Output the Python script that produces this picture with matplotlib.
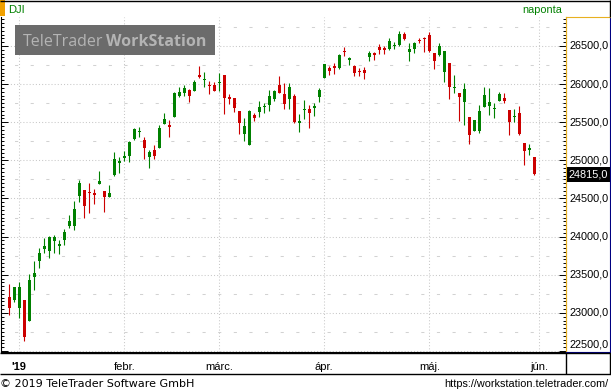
import numpy as np
import pandas as pd
import matplotlib
matplotlib.use("Agg")
import matplotlib.pyplot as plt
from matplotlib import transforms
from matplotlib.lines import Line2D
from matplotlib.patches import Rectangle
from matplotlib.ticker import MultipleLocator, FixedLocator

# DJI daily candles
dates = [
    "2018-12-28", "2018-12-31",
    "2019-01-02", "2019-01-03", "2019-01-04", "2019-01-07", "2019-01-08", "2019-01-09",
    "2019-01-10", "2019-01-11", "2019-01-14", "2019-01-15", "2019-01-16", "2019-01-17",
    "2019-01-18", "2019-01-22", "2019-01-23", "2019-01-24", "2019-01-25", "2019-01-28",
    "2019-01-29", "2019-01-30", "2019-01-31",
    "2019-02-01", "2019-02-04", "2019-02-05", "2019-02-06", "2019-02-07", "2019-02-08",
    "2019-02-11", "2019-02-12", "2019-02-13", "2019-02-14", "2019-02-15", "2019-02-19",
    "2019-02-20", "2019-02-21", "2019-02-22", "2019-02-25", "2019-02-26", "2019-02-27",
    "2019-02-28",
    "2019-03-01", "2019-03-04", "2019-03-05", "2019-03-06", "2019-03-07", "2019-03-08",
    "2019-03-11", "2019-03-12", "2019-03-13", "2019-03-14", "2019-03-15", "2019-03-18",
    "2019-03-19", "2019-03-20", "2019-03-21", "2019-03-22", "2019-03-25", "2019-03-26",
    "2019-03-27", "2019-03-28", "2019-03-29",
    "2019-04-01", "2019-04-02", "2019-04-03", "2019-04-04", "2019-04-05", "2019-04-08",
    "2019-04-09", "2019-04-10", "2019-04-11", "2019-04-12", "2019-04-15", "2019-04-16",
    "2019-04-17", "2019-04-18", "2019-04-22", "2019-04-23", "2019-04-24", "2019-04-25",
    "2019-04-26", "2019-04-29", "2019-04-30",
    "2019-05-01", "2019-05-02", "2019-05-03", "2019-05-06", "2019-05-07", "2019-05-08",
    "2019-05-09", "2019-05-10", "2019-05-13", "2019-05-14", "2019-05-15", "2019-05-16",
    "2019-05-17", "2019-05-20", "2019-05-21", "2019-05-22", "2019-05-23", "2019-05-24",
    "2019-05-28", "2019-05-29", "2019-05-30", "2019-05-31",
]
opens = [
    23213, 23169,
    23060, 23169, 22898, 23475, 23680, 23842, 23816, 23947, 23881, 23956, 24139, 24139,
    24537, 24611, 24580, 24576, 24686, 24603, 24515, 24808, 24961,
    25025, 25057, 25280, 25375, 25267, 25049, 25136, 25158, 25481, 25464, 25573, 25849,
    25879, 25923, 25914, 26120, 26048, 25989, 25989,
    26010, 26120, 25831, 25822, 25648, 25346, 25202, 25595, 25639, 25700, 25726, 25805,
    25989, 25870, 25805, 25844, 25494, 25655, 25674, 25691, 25836,
    26076, 26216, 26242, 26207, 26426, 26316, 26242, 26176, 26185, 26351, 26413, 26491,
    26478, 26461, 26500, 26513, 26657, 26426, 26461, 26570, 26605,
    26644, 26404, 26382, 26163, 26281, 25945, 25888, 25770, 25573, 25390, 25390, 25696,
    25713, 25670, 25779, 25822, 25661, 25565, 25617, 25232, 25140, 25049,
]
highs = [
    23374, 23344,
    23405, 23169, 23510, 23680, 23855, 23986, 24008, 24021, 23956, 24096, 24284, 24467,
    24743, 24611, 24708, 24620, 24861, 24603, 24677, 25114, 25049,
    25120, 25250, 25429, 25442, 25311, 25136, 25202, 25464, 25617, 25530, 25901, 25967,
    25989, 25936, 26054, 26238, 26155, 26041, 26023,
    26141, 26120, 25870, 25822, 25648, 25551, 25661, 25626, 25779, 25757, 25923, 25923,
    26107, 26010, 26019, 25870, 25608, 25792, 25726, 25748, 25945,
    26264, 26242, 26281, 26395, 26491, 26360, 26251, 26216, 26229, 26434, 26426, 26526,
    26500, 26609, 26548, 26701, 26688, 26535, 26557, 26600, 26614,
    26688, 26404, 26544, 26434, 26281, 26120, 25888, 26010, 25573, 25530, 25726, 25958,
    25954, 25748, 25892, 25879, 25661, 25674, 25713, 25232, 25215, 25049,
]
lows = [
    22972, 23147,
    22928, 22636, 22898, 23300, 23584, 23781, 23715, 23781, 23768, 23890, 24117, 24087,
    24458, 24249, 24314, 24423, 24686, 24327, 24515, 24795, 24839,
    24990, 24983, 25267, 25311, 25014, 24896, 25014, 25158, 25481, 25311, 25573, 25836,
    25849, 25770, 25914, 26076, 25967, 25871, 25909,
    25914, 25612, 25735, 25639, 25346, 25258, 25202, 25521, 25573, 25626, 25648, 25783,
    25888, 25674, 25670, 25494, 25377, 25543, 25429, 25582, 25770,
    26076, 26120, 26133, 26194, 26369, 26251, 26107, 26111, 26067, 26308, 26316, 26391,
    26395, 26448, 26461, 26500, 26579, 26308, 26404, 26535, 26426,
    26426, 26194, 26374, 26032, 25800, 25888, 25521, 25464, 25215, 25390, 25355, 25696,
    25595, 25560, 25779, 25757, 25333, 25499, 25333, 24939, 25070, 24808,
]
closes = [
    23068, 23335,
    23344, 22688, 23431, 23519, 23781, 23877, 23991, 23999, 23903, 24065, 24205, 24358,
    24708, 24406, 24574, 24550, 24729, 24524, 24576, 25014, 24992,
    25057, 25245, 25411, 25385, 25158, 25114, 25062, 25429, 25543, 25442, 25888, 25892,
    25949, 25849, 26023, 26089, 26056, 25980, 25914,
    26023, 25820, 25809, 25683, 25486, 25451, 25648, 25551, 25704, 25706, 25844, 25910,
    25888, 25739, 25967, 25508, 25516, 25660, 25626, 25713, 25923,
    26264, 26172, 26216, 26382, 26417, 26347, 26150, 26163, 26141, 26413, 26382, 26448,
    26448, 26570, 26504, 26657, 26597, 26461, 26544, 26561, 26596,
    26434, 26308, 26500, 26434, 25967, 25967, 25836, 25936, 25333, 25530, 25648, 25857,
    25770, 25676, 25866, 25783, 25499, 25573, 25346, 25127, 25167, 24815,
]
month_names = ["'19", "febr.", "márc.", "ápr.", "máj.", "jún."]
price_ticks = [22500, 23000, 23500, 24000, 24500, 25000, 25500, 26000, 26500]

GREEN = "#008000"
RED = "#cc0000"
GRID = "#c8c8c8"
YELLOW = "#e8b020"
NAVY = "#000080"

W, H = 611, 392
fig = plt.figure(figsize=(W / 100, H / 100), dpi=100)


def rect(x0, y0, x1, y1):
    # pixel box (from top-left) -> figure fraction
    return [x0 / W, 1 - y1 / H, (x1 - x0) / W, (y1 - y0) / H]


def hline(y, x0, x1, color="black", lw=1.0):
    fig.add_artist(Line2D([x0 / W, x1 / W], [1 - y / H] * 2, transform=fig.transFigure,
                          color=color, lw=lw, solid_capstyle="butt"))


def vline(x, y0, y1, color="black", lw=1.0):
    fig.add_artist(Line2D([x / W] * 2, [1 - y0 / H, 1 - y1 / H], transform=fig.transFigure,
                          color=color, lw=lw, solid_capstyle="butt"))


def fmt(v):
    return f"{v:.1f}".replace(".", ",")


ax = fig.add_axes(rect(1, 17, 566, 352))
x = np.arange(len(dates))
o, h, l, c = map(np.array, (opens, highs, lows, closes))
colors = np.where(c >= o, GREEN, RED)

ax.set_xlim(-1.66, 111.34)
ax.set_ylim(22487, 26880)

# month starts on the trading-day axis
d = pd.to_datetime(dates)
new_month = np.r_[False, d.month[1:] != d.month[:-1]]
month_pos = list(np.flatnonzero(new_month)) + [len(dates)]

# grid
for v in price_ticks:
    ax.axhline(v, color=GRID, lw=0.75, ls=(0, (1, 2)), zorder=0)
for v in np.array(price_ticks) + 250:
    ax.axhline(v, color="#d2d2d2", lw=0.75, ls=(2, (3, 12)), zorder=0)
for p in month_pos:
    ax.axvline(p, color=GRID, lw=0.75, ls=(0, (1, 2)), zorder=0)

# candles
ax.vlines(x, l, h, colors=colors, lw=0.8, zorder=2)
body = np.maximum(np.abs(c - o), 14)
ax.bar(x, body, bottom=np.minimum(o, c), width=0.6, color=colors, lw=0, zorder=3)

# axes / ticks
ax.yaxis.set_major_locator(FixedLocator(price_ticks))
ax.yaxis.set_minor_locator(MultipleLocator(50))
ax.tick_params(axis="y", which="both", direction="in", left=True, right=True,
               labelleft=False, labelright=False, width=0.7, color="black")
ax.tick_params(axis="y", which="major", length=5)
ax.tick_params(axis="y", which="minor", length=2.5)

ax.set_xticks(month_pos, month_names)
ax.tick_params(axis="x", length=0, pad=7, labelsize=8)
for t in ax.get_xticklabels():
    t.set_family("Liberation Sans")
ax.get_xticklabels()[0].set_fontweight("bold")

ax.spines["top"].set_visible(False)
ax.spines["left"].set_color("black")
ax.spines["bottom"].set_color("black")
ax.spines["right"].set_color(YELLOW)

# price labels in the right panel
trans = transforms.blended_transform_factory(ax.transAxes, ax.transData)
lab_trans = transforms.offset_copy(trans, fig=fig, x=4, units="dots")
for v in price_ticks:
    if v == price_ticks[0]:
        ax.text(1.0, v, fmt(v), transform=transforms.offset_copy(trans, fig=fig, x=4, y=2, units="dots"),
                ha="left", va="bottom", fontsize=7.8, family="Liberation Sans", clip_on=False)
    else:
        ax.text(1.0, v, fmt(v), transform=lab_trans, ha="left", va="center",
                fontsize=7.8, family="Liberation Sans", clip_on=False)

# right price panel frame
ax_r = fig.add_axes(rect(566, 17, 609.5, 351.5))
ax_r.patch.set_alpha(0)
ax_r.set_xticks([])
ax_r.set_yticks([])
ax_r.spines["left"].set_color(YELLOW)
ax_r.spines["top"].set_color(YELLOW)
ax_r.spines["right"].set_color(NAVY)
ax_r.spines["bottom"].set_color(NAVY)

# last price label
ax.text(1.0, closes[-1], fmt(closes[-1]),
        transform=transforms.offset_copy(trans, fig=fig, x=2.5, units="dots"),
        ha="left", va="center", color="white", fontsize=7.8, family="Liberation Sans",
        bbox=dict(boxstyle="square,pad=0.2", fc="black", ec="none"), clip_on=False, zorder=5)

# frame lines
hline(0.5, 0, W)
vline(609.5, 0, 17)
hline(353, 0, W)
hline(373.5, 0, W)
vline(565.5, 353, 373.5)
vline(609.5, 353, 373.5)

# header
fig.add_artist(Rectangle((0, 1 - 16 / H), 5 / W, 16 / H, transform=fig.transFigure,
                         fc="#f0a000", ec="none"))
fig.text(8 / W, 1 - 13 / H, "DJI", color=GREEN, fontsize=8, family="Liberation Sans",
         ha="left", va="baseline")
fig.text(562 / W, 1 - 13 / H, "naponta", color=GREEN, fontsize=7.8, family="Liberation Sans",
         ha="right", va="baseline")

# watermark
fig.add_artist(Rectangle((15 / W, 1 - 55 / H), 200 / W, 30 / H, transform=fig.transFigure,
                         fc="#6b6b6b", ec="none", zorder=4))
fig.text(23 / W, 1 - 46 / H, "TeleTrader", color="#b4b4b4", fontsize=11.5,
         family="Open Sans", ha="left", va="baseline", zorder=5)
fig.text(106 / W, 1 - 46 / H, "WorkStation", color="#b4b4b4", fontsize=11.5,
         family="Open Sans", fontweight="bold", ha="left", va="baseline", zorder=5)

# footer
fig.text(0, 1 - 387 / H, "© 2019 TeleTrader Software GmbH", fontsize=8,
         family="DejaVu Sans", ha="left", va="baseline")
fig.text(608 / W, 1 - 387 / H, "https://workstation.teletrader.com/", fontsize=7.8,
         family="Liberation Sans", ha="right", va="baseline")

fig.savefig("out.png", dpi=100)
